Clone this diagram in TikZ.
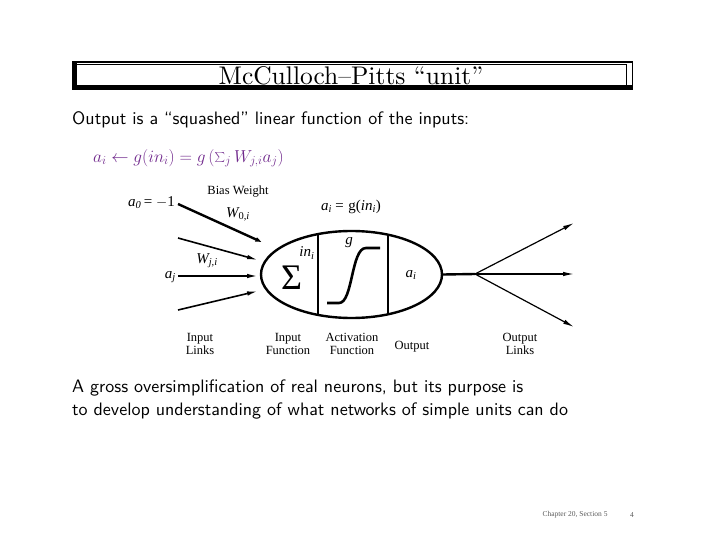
\documentclass[tikz,border=0pt]{standalone}
\usepackage{fontspec}
\usetikzlibrary{arrows.meta,shapes.geometric}
\newfontfamily\titlefont{lmroman10-regular}[Extension=.otf,Ligatures=TeX]
\newfontfamily\bodyfont{lmsans10-regular}[Extension=.otf,Ligatures=TeX]
\newfontfamily\timesf{Liberation Serif}[Ligatures=TeX]
\definecolor{mathpurple}{RGB}{112,40,140}
\definecolor{footgray}{RGB}{90,90,90}
\begin{document}
\begin{tikzpicture}[x=1pt,y=-1pt,
  lbl/.style={font=\timesf\fontsize{12.5}{13}\selectfont, inner sep=0pt, align=center},
  mlbl/.style={font=\timesf\itshape\fontsize{15}{16}\selectfont, inner sep=0pt},
  body/.style={font=\bodyfont\fontsize{18}{23}\selectfont, anchor=west, inner sep=0pt},
  inarrow/.style={line width=1.6pt, -{Latex[length=11pt,width=4.5pt]}},
  outarrow/.style={line width=1.2pt, -{Latex[length=11pt,width=4.5pt]}}]
\useasboundingbox (0,0) rectangle (720,540);
% title frame
\draw[line width=0.9pt] (72.5,61.5) rectangle (632.5,89.5);
\draw[line width=1.4pt] (76,64.5) rectangle (626.5,85.5);
\fill (72,61) rectangle (77,90);
\fill (72,85) rectangle (633,90);
\fill (72,61) rectangle (633,63.5);
\node[font=\titlefont\fontsize{25.5}{26}\selectfont, inner sep=0pt] (title) at (351,76) {McCulloch--Pitts ``unit''};
% body text
\node[body] (line1) at (72,120) {Output is a ``squashed'' linear function of the inputs:};
\node[anchor=west, inner sep=0pt, text=mathpurple, font=\fontsize{18}{20}\selectfont] (formula) at (93,158)
  {$a_i \leftarrow g(in_i) = g\left(\sum\nolimits_j W_{j,i} a_j\right)$};
% the unit
\node[draw, ellipse, line width=2.4pt, minimum width=181pt, minimum height=87pt, inner sep=0pt] (unit) at (351.5,274.5) {};
\begin{scope}
  \clip (351.5,274.5) ellipse [x radius=90.5, y radius=43.5];
  \draw[line width=1.5pt] (318,225) -- (318,325);
  \draw[line width=1.5pt] (388,225) -- (388,325);
\end{scope}
\draw[line width=2.6pt] (327,303) -- (339,303) .. controls (353,303) and (351,248) .. (366,248) -- (380,248);
\node[font=\timesf\fontsize{36}{36}\selectfont, inner sep=0pt] (sigma) at (291.5,278) {Σ};
\node[mlbl] (ini) at (307,253) {in\textsubscript{\itshape i}};
\node[mlbl] (g) at (349,243) {g};
\node[mlbl] (ai) at (411,275) {a\textsubscript{\itshape i}};
\node[mlbl] (aeq) at (351,207) {a\textsubscript{\itshape i}\,= \upshape g(\itshape in\textsubscript{\itshape i}\upshape)};
% inputs
\node[mlbl, anchor=east] (a0) at (175,203) {a\textsubscript{0}\upshape\,= $-$1};
\node[mlbl, anchor=east] (aj) at (176,277) {a\textsubscript{\itshape j}};
\node[lbl] (bias) at (238,192) {Bias Weight};
\node[mlbl] (w0) at (238,214) {W\textsubscript{\upshape 0,\itshape i}};
\node[mlbl] (wj) at (207,261) {W\textsubscript{\itshape j,i}};
\coordinate (s1) at (178,238);
\coordinate (s3) at (178,310);
\coordinate (t0) at (266,244);
\coordinate (t1) at (258,260);
\coordinate (t2) at (258,276);
\coordinate (t3) at (258,291);
\draw[inarrow, line width=2.4pt] (a0.east) ++(3,1) -- (t0);
\draw[inarrow] (s1) -- (t1);
\draw[inarrow] (aj.east) ++(2,-1) -- (t2);
\draw[inarrow] (s3) -- (t3);
% outputs
\coordinate (fork) at (475,274);
\coordinate (o1) at (574,223);
\coordinate (o2) at (574,274);
\coordinate (o3) at (574,327);
\draw[line width=2.4pt] (unit.east) -- (fork);
\draw[outarrow] (fork) -- (o1);
\draw[outarrow] (fork) -- (o2);
\draw[outarrow] (fork) -- (o3);
% captions
\node[lbl] (cap1) at (200,344) {Input\\Links};
\node[lbl] (cap2) at (288,344) {Input\\Function};
\node[lbl] (cap3) at (352,344) {Activation\\Function};
\node[lbl] (cap4) at (412,347) {Output};
\node[lbl] (cap5) at (520,344) {Output\\Links};
% bottom text
\node[body] (line2) at (72,388) {A gross oversimplification of real neurons, but its purpose is};
\node[body] (line3) at (72,411) {to develop understanding of what networks of simple units can do};
\node[font=\timesf\fontsize{7.5}{8}\selectfont, text=footgray, inner sep=0pt] (foot) at (575,515) {Chapter 20, Section 5};
\node[font=\timesf\fontsize{7.5}{8}\selectfont, text=footgray, inner sep=0pt] (page) at (632,515) {4};
\end{tikzpicture}
\end{document}
